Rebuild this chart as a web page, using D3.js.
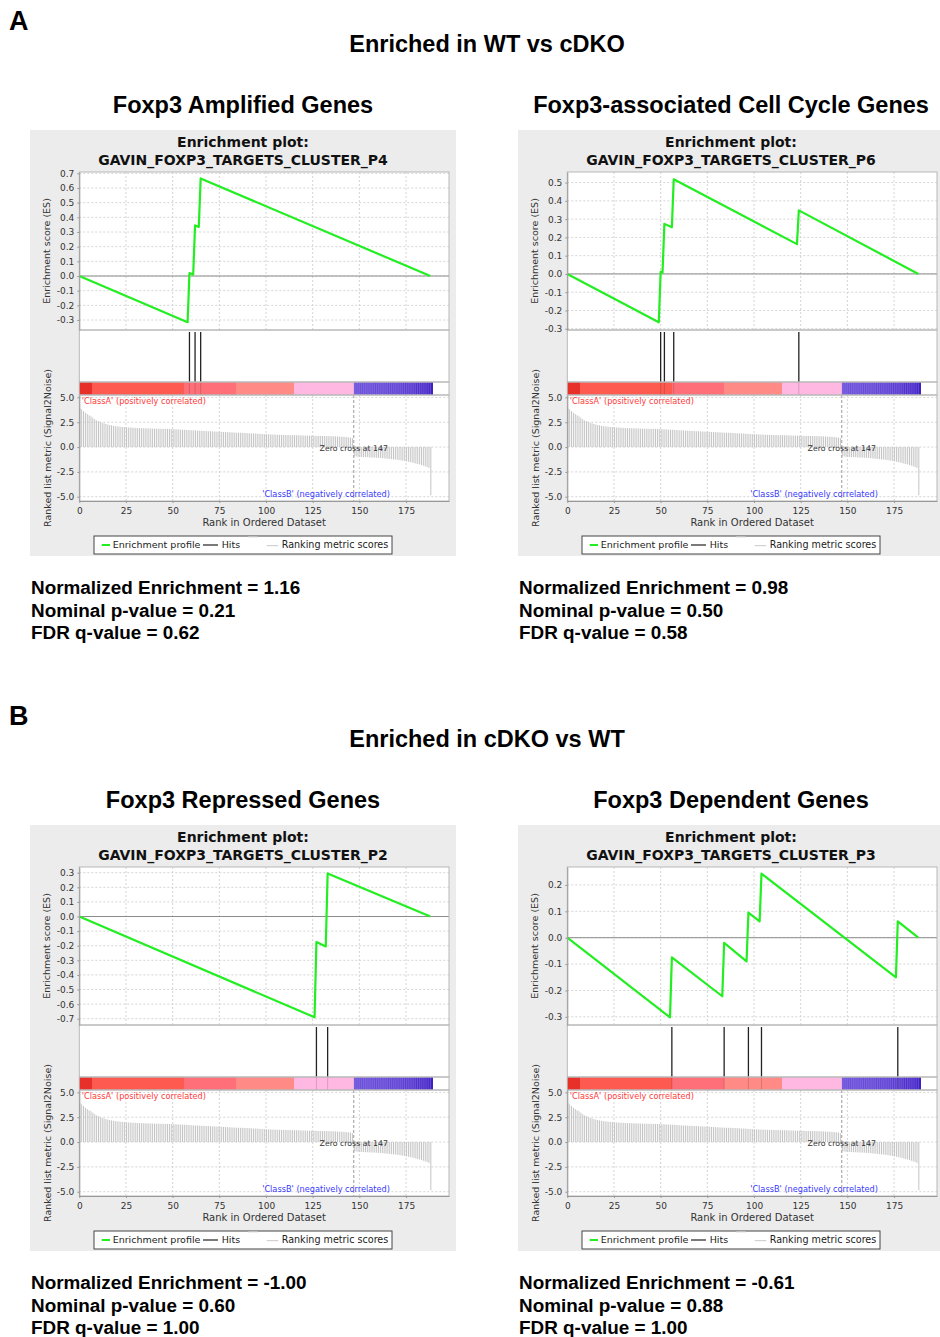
<!DOCTYPE html>
<html>
<head>
<meta charset="utf-8">
<script src="https://cdn.jsdelivr.net/npm/d3@7"></script>
<style>
  body { margin: 0; background: #fff; }
  svg { display: block; }
</style>
</head>
<body>
<svg id="fig" width="940" height="1337"></svg>
<script>
// GSEA enrichment plots, 2 sections x 2 gene sets

const sectionLetters = ["A", "B"];
const sectionTitles = ["Enriched in WT vs cDKO", "Enriched in cDKO vs WT"];
const panelTitles = ["Foxp3 Amplified Genes", "Foxp3-associated Cell Cycle Genes",
                     "Foxp3 Repressed Genes", "Foxp3 Dependent Genes"];
const geneSets = ["GAVIN_FOXP3_TARGETS_CLUSTER_P4", "GAVIN_FOXP3_TARGETS_CLUSTER_P6",
                  "GAVIN_FOXP3_TARGETS_CLUSTER_P2", "GAVIN_FOXP3_TARGETS_CLUSTER_P3"];
const nesValues = [1.16, 0.98, -1.00, -0.61];
const pValues = [0.21, 0.50, 0.60, 0.88];
const fdrValues = [0.62, 0.58, 1.00, 1.00];

// running enrichment score, [rank, ES] at the corners of the curve
const esP4 = [[0, 0], [58, -0.315], [59, 0.02], [61, 0.01], [62, 0.345], [64, 0.335], [65, 0.665], [188, 0]];
const esP6 = [[0, 0], [49, -0.265], [50, 0.012], [51, 0.007], [52, 0.274], [56, 0.255], [57, 0.518],
              [123, 0.163], [124, 0.348], [188, 0]];
const esP2 = [[0, 0], [126, -0.69], [127, -0.175], [132, -0.205], [133, 0.295], [188, 0]];
const esP3 = [[0, 0], [55, -0.302], [56, -0.075], [83, -0.222], [84, -0.02], [96, -0.09], [97, 0.095],
              [103, 0.062], [104, 0.243], [176, -0.15], [177, 0.062], [188, 0]];
const esCurves = [esP4, esP6, esP2, esP3];

// gene set hits (rank positions)
const hitsP4 = [59, 62, 65];
const hitsP6 = [50, 52, 57, 124];
const hitsP2 = [127, 133];
const hitsP3 = [56, 84, 97, 104, 177];
const hitLists = [hitsP4, hitsP6, hitsP2, hitsP3];

// ES axis extents and ticks
const esDomains = [[-0.368, 0.709], [-0.307, 0.558], [-0.743, 0.339], [-0.331, 0.268]];
const esTicksP4 = [-0.3, -0.2, -0.1, 0, 0.1, 0.2, 0.3, 0.4, 0.5, 0.6, 0.7];
const esTicksP6 = [-0.3, -0.2, -0.1, 0, 0.1, 0.2, 0.3, 0.4, 0.5];
const esTicksP2 = [-0.7, -0.6, -0.5, -0.4, -0.3, -0.2, -0.1, 0, 0.1, 0.2, 0.3];
const esTicksP3 = [-0.3, -0.2, -0.1, 0, 0.1, 0.2];
const esTickLists = [esTicksP4, esTicksP6, esTicksP2, esTicksP3];

// ranked list metric (Signal2Noise), same ranking for every panel
const rankMetric = [
  3.95, 3.80, 3.62, 3.45, 3.32, 3.20, 3.10, 2.95, 2.80, 2.68,
  2.60, 2.52, 2.45, 2.38, 2.32, 2.26, 2.22, 2.18, 2.14, 2.11,
  2.08, 2.06, 2.04, 2.02, 2.00, 1.98, 1.97, 1.96, 1.95, 1.94,
  1.93, 1.92, 1.91, 1.90, 1.90, 1.89, 1.88, 1.88, 1.87, 1.86,
  1.86, 1.85, 1.85, 1.84, 1.84, 1.83, 1.83, 1.82, 1.82, 1.81,
  1.80, 1.79, 1.78, 1.77, 1.76, 1.75, 1.74, 1.73, 1.72, 1.70,
  1.69, 1.68, 1.67, 1.66, 1.65, 1.64, 1.63, 1.62, 1.61, 1.60,
  1.59, 1.58, 1.57, 1.56, 1.55, 1.54, 1.53, 1.52, 1.51, 1.50,
  1.49, 1.48, 1.47, 1.46, 1.45, 1.44, 1.43, 1.43, 1.42, 1.41,
  1.40, 1.39, 1.38, 1.37, 1.36, 1.35, 1.34, 1.32, 1.31, 1.30,
  1.29, 1.28, 1.27, 1.26, 1.25, 1.25, 1.24, 1.23, 1.23, 1.22,
  1.22, 1.21, 1.21, 1.20, 1.20, 1.19, 1.19, 1.18, 1.18, 1.17,
  1.16, 1.16, 1.15, 1.15, 1.14, 1.14, 1.13, 1.13, 1.12, 1.12,
  1.11, 1.11, 1.10, 1.10, 1.09, 1.09, 1.08, 1.07, 1.06, 1.05,
  1.04, 1.03, 1.02, 1.00, 0.98, 0.95, 0.90,
  -0.94, -0.96, -0.98,
  -0.99, -1.00, -1.01, -1.02, -1.03, -1.04, -1.05, -1.06, -1.07, -1.08,
  -1.09, -1.10, -1.12, -1.14, -1.16, -1.18, -1.20, -1.22, -1.24, -1.26,
  -1.28, -1.31, -1.34, -1.37, -1.40, -1.44, -1.48, -1.52, -1.56, -1.61,
  -1.66, -1.71, -1.76, -1.82, -1.88, -1.94, -2.02, -2.10, -4.85
];
const zeroCross = 147;
const rankTicks = [0, 25, 50, 75, 100, 125, 150, 175];
const metricTicks = [-5, -2.5, 0, 2.5, 5];
const rankExtent = [0, 198];
const metricExtent = [-5.43, 5.24];

// heat bar colour bands by metric value
const heatThresholds = [1.195, 1.455, 1.745, 3.0];
const heatColors = ["#ffb8e2", "#ff8a86", "#ff6f79", "#ff5a50", "#e8302b"];

// ---------------------------------------------------------------
const svg = d3.select("#fig");
const loc = d3.formatLocale({decimal: ".", thousands: ",", grouping: [3], currency: ["", ""], minus: "-"});
const f1 = loc.format(".1f"), f2 = loc.format(".2f");
const HEAD = "'Liberation Sans', Arial, Helvetica, sans-serif";
const JAVA = "'DejaVu Sans', Verdana, sans-serif";

const panelX = [30, 518];
const panelTop = 130;
const sectionGap = 695;
const W = 426, H = 426;
const plotL = 49.3, plotR = 419;
const esTop = 42, esBot = 200, hitsBot = 252, heatBot = 265, metBot = 371;

svg.append("rect").attr("width", 940).attr("height", 1337).attr("fill", "#fff");

const heatScale = d3.scaleThreshold().domain(heatThresholds).range(heatColors);
const negScale = d3.scaleLinear().domain([-0.94, -2.1]).range(["#6d52da", "#3f20c4"]).clamp(true);

// headings
sectionLetters.forEach((s, i) => {
  const oy = i * sectionGap;
  svg.append("text").attr("x", 9).attr("y", 30 + oy)
    .attr("font-family", HEAD).attr("font-weight", "bold").attr("font-size", 27)
    .text(s);
  svg.append("text").attr("x", 487).attr("y", 51.5 + oy).attr("text-anchor", "middle")
    .attr("font-family", HEAD).attr("font-weight", "bold").attr("font-size", 23.5)
    .text(sectionTitles[i]);
});

function drawPanel(k) {
  const col = k % 2, sec = Math.floor(k / 2);
  const oy = sec * sectionGap;
  const px = panelX[col];

  svg.append("text").attr("x", px + 213).attr("y", 112.5 + oy).attr("text-anchor", "middle")
    .attr("font-family", HEAD).attr("font-weight", "bold").attr("font-size", 23.5)
    .text(panelTitles[k]);

  const stats = [
    "Normalized Enrichment = " + f2(nesValues[k]),
    "Nominal p-value = " + f2(pValues[k]),
    "FDR q-value = " + f2(fdrValues[k])
  ];
  svg.append("g").selectAll("text").data(stats).join("text")
    .attr("x", px + 1).attr("y", (d, j) => 594 + j * 22.5 + oy)
    .attr("font-family", HEAD).attr("font-weight", "bold").attr("font-size", 18.9)
    .text(d => d);

  const g = svg.append("g").attr("transform", `translate(${px},${panelTop + oy})`);
  g.append("rect").attr("width", W).attr("height", H).attr("fill", "#ececec");

  // title
  g.append("text").attr("x", 213).attr("y", 16.8).attr("text-anchor", "middle")
    .attr("font-family", JAVA).attr("font-weight", "bold").attr("font-size", 14).attr("fill", "#111")
    .text("Enrichment plot:");
  g.append("text").attr("x", 213).attr("y", 35).attr("text-anchor", "middle")
    .attr("font-family", JAVA).attr("font-weight", "bold").attr("font-size", 14).attr("fill", "#111")
    .text(geneSets[k]);

  const x = d3.scaleLinear().domain(rankExtent).range([plotL, plotR]);
  const yES = d3.scaleLinear().domain(esDomains[k]).range([esBot, esTop]);
  const yM = d3.scaleLinear().domain(metricExtent).range([metBot, heatBot]);

  // plot backgrounds
  g.append("rect").attr("x", plotL).attr("y", esTop).attr("width", plotR - plotL)
    .attr("height", metBot - esTop).attr("fill", "#fff");

  const grid = (sel) => sel.selectAll("line")
    .attr("stroke", "#d4d4d4").attr("stroke-dasharray", "2,2").attr("stroke-width", 1);

  // ES grid
  const esg = g.append("g");
  esg.selectAll(".vg").data(rankTicks.slice(1)).join("line").attr("class", "vg")
    .attr("x1", d => x(d)).attr("x2", d => x(d)).attr("y1", esTop).attr("y2", esBot);
  esg.selectAll(".hg").data(esTickLists[k]).join("line").attr("class", "hg")
    .attr("x1", plotL).attr("x2", plotR).attr("y1", d => yES(d)).attr("y2", d => yES(d));
  grid(esg);
  g.append("line").attr("x1", plotL).attr("x2", plotR).attr("y1", yES(0)).attr("y2", yES(0))
    .attr("stroke", "#8c8c8c").attr("stroke-width", 1);

  // metric grid
  const mg = g.append("g");
  mg.selectAll(".vg").data(rankTicks.slice(1)).join("line").attr("class", "vg")
    .attr("x1", d => x(d)).attr("x2", d => x(d)).attr("y1", heatBot).attr("y2", metBot);
  mg.selectAll(".hg").data(metricTicks).join("line").attr("class", "hg")
    .attr("x1", plotL).attr("x2", plotR).attr("y1", d => yM(d)).attr("y2", d => yM(d));
  grid(mg);

  // metric bars
  g.append("g").selectAll("line").data(rankMetric).join("line")
    .attr("x1", (d, i) => x(i) + 0.5).attr("x2", (d, i) => x(i) + 0.5)
    .attr("y1", yM(0)).attr("y2", d => yM(d))
    .attr("stroke", "#c4c4c4").attr("stroke-width", 1);

  // zero cross
  g.append("line").attr("x1", x(zeroCross)).attr("x2", x(zeroCross))
    .attr("y1", heatBot).attr("y2", metBot)
    .attr("stroke", "#9a9a9a").attr("stroke-dasharray", "3,2");
  g.append("text").attr("x", x(zeroCross)).attr("y", yM(0) + 3.5).attr("text-anchor", "middle")
    .attr("font-family", JAVA).attr("font-size", 7.8).attr("fill", "#333")
    .text("Zero cross at " + zeroCross);
  g.append("text").attr("x", plotL + 2.4).attr("y", heatBot + 8.7)
    .attr("font-family", JAVA).attr("font-size", 8.2).attr("fill", "#ff3a3a")
    .text("'ClassA' (positively correlated)");
  g.append("text").attr("x", plotL + 310.7).attr("y", metBot - 4).attr("text-anchor", "end")
    .attr("font-family", JAVA).attr("font-size", 8.2).attr("fill", "#3a3aff")
    .text("'ClassB' (negatively correlated)");

  // heat bar
  g.append("g").attr("shape-rendering", "crispEdges")
    .selectAll("rect").data(rankMetric).join("rect")
    .attr("x", (d, i) => x(i)).attr("width", (d, i) => x(i + 1) - x(i) + 0.6)
    .attr("y", hitsBot).attr("height", heatBot - hitsBot)
    .attr("fill", d => d >= 0 ? heatScale(d) : negScale(d));
  g.append("g").selectAll("line").data(rankMetric.map((d, i) => i).filter(i => rankMetric[i] < 0))
    .join("line")
    .attr("x1", d => x(d) + 0.3).attr("x2", d => x(d) + 0.3)
    .attr("y1", hitsBot).attr("y2", heatBot)
    .attr("stroke", "#9d88ec").attr("stroke-width", 0.6).attr("opacity", 0.7);

  // hits
  g.append("g").selectAll("line").data(hitLists[k]).join("line")
    .attr("x1", d => x(d)).attr("x2", d => x(d)).attr("y1", esBot + 2).attr("y2", hitsBot)
    .attr("stroke", "#222").attr("stroke-width", 1.3);
  g.append("g").selectAll("line").data(hitLists[k]).join("line")
    .attr("x1", d => x(d)).attr("x2", d => x(d)).attr("y1", hitsBot).attr("y2", heatBot)
    .attr("stroke", "#000").attr("stroke-width", 1).attr("opacity", 0.15);

  // ES curve
  g.append("path").datum(esCurves[k])
    .attr("d", d3.line().x(d => x(d[0])).y(d => yES(d[1])))
    .attr("fill", "none").attr("stroke", "#22ee22").attr("stroke-width", 2.2)
    .attr("stroke-linejoin", "round");

  // borders
  [[esTop, esBot], [esBot, hitsBot], [hitsBot, heatBot], [heatBot, metBot]].forEach(([a, b]) => {
    g.append("rect").attr("x", plotL).attr("y", a).attr("width", plotR - plotL).attr("height", b - a)
      .attr("fill", "none").attr("stroke", "#b8b8b8").attr("stroke-width", 1);
  });

  const styleAxis = (ax) => {
    ax.select(".domain").attr("stroke", "#999");
    ax.selectAll(".tick line").attr("stroke", "#999");
    ax.selectAll("text").attr("font-family", JAVA).attr("font-size", 9).attr("fill", "#333");
  };

  g.append("g").attr("transform", `translate(${plotL},0)`)
    .call(d3.axisLeft(yES).tickValues(esTickLists[k]).tickFormat(f1).tickSize(2).tickPadding(3).tickSizeOuter(0))
    .call(styleAxis);
  g.append("g").attr("transform", `translate(${plotL},0)`)
    .call(d3.axisLeft(yM).tickValues(metricTicks).tickFormat(f1).tickSize(2).tickPadding(3).tickSizeOuter(0))
    .call(styleAxis);
  g.append("g").attr("transform", `translate(0,${metBot})`)
    .call(d3.axisBottom(x).tickValues(rankTicks).tickFormat(d3.format("d")).tickSize(2).tickPadding(4.5).tickSizeOuter(0))
    .call(styleAxis);

  // axis titles
  g.append("text").attr("transform", `translate(20,${(esTop + esBot) / 2}) rotate(-90)`)
    .attr("text-anchor", "middle").attr("font-family", JAVA).attr("font-size", 9.5).attr("fill", "#333")
    .text("Enrichment score (ES)");
  g.append("text").attr("transform", `translate(20.5,${(heatBot + metBot) / 2}) rotate(-90)`)
    .attr("text-anchor", "middle").attr("font-family", JAVA).attr("font-size", 9.5).attr("fill", "#333")
    .text("Ranked list metric (Signal2Noise)");
  g.append("text").attr("x", (plotL + plotR) / 2).attr("y", 396.3).attr("text-anchor", "middle")
    .attr("font-family", JAVA).attr("font-size", 10).attr("fill", "#333")
    .text("Rank in Ordered Dataset");

  // legend
  const lg = g.append("g");
  lg.append("rect").attr("x", 64).attr("y", 406).attr("width", 298).attr("height", 18)
    .attr("fill", "#fff").attr("stroke", "#444").attr("stroke-width", 1);
  lg.append("line").attr("x1", 71.7).attr("x2", 80).attr("y1", 415).attr("y2", 415)
    .attr("stroke", "#22ee22").attr("stroke-width", 2);
  lg.append("text").attr("x", 82.7).attr("y", 418.4).attr("font-family", JAVA).attr("font-size", 9.5)
    .attr("fill", "#222").text("Enrichment profile");
  lg.append("line").attr("x1", 173).attr("x2", 188).attr("y1", 415).attr("y2", 415)
    .attr("stroke", "#222").attr("stroke-width", 1.2);
  lg.append("text").attr("x", 191.7).attr("y", 418.4).attr("font-family", JAVA).attr("font-size", 9.5)
    .attr("fill", "#222").text("Hits");
  lg.append("line").attr("x1", 218.3).attr("x2", 227.7).attr("y1", 407).attr("y2", 407)
    .attr("stroke", "#ddd").attr("stroke-width", 1);
  lg.append("line").attr("x1", 236.7).attr("x2", 248.3).attr("y1", 415.7).attr("y2", 415.7)
    .attr("stroke", "#c8c8c8").attr("stroke-width", 1);
  lg.append("text").attr("x", 251.7).attr("y", 418.4).attr("font-family", JAVA).attr("font-size", 9.6)
    .attr("fill", "#222").text("Ranking metric scores");
}

[0, 1, 2, 3].forEach(drawPanel);
</script>
</body>
</html>
